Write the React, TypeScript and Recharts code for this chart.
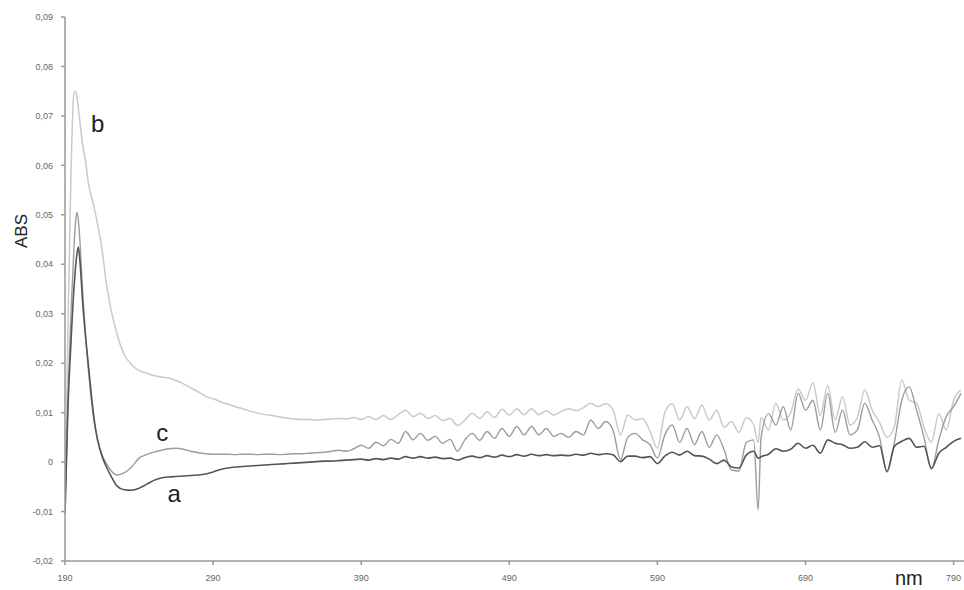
import { LineChart, Line, XAxis, YAxis, ReferenceDot } from 'recharts';

// wavelength grid (nm)
const nm = [
  190, 192, 194, 196, 197, 198, 199, 200, 202, 204, 206, 208, 210, 212, 215, 218, 221,
  225, 230, 235, 240, 245, 250, 255, 260, 265, 270, 275, 280, 285, 290, 295, 300, 305, 310,
  315, 320, 325, 330, 335, 340, 345, 350, 355, 360, 365, 370, 375, 380, 385,
  390, 395, 400, 405, 410, 415, 420, 425, 430, 435, 440, 445, 450, 455, 460, 465, 470, 475,
  480, 485, 490, 495, 500, 505, 510, 515, 520, 525, 530, 535, 540, 545, 550, 555, 560, 565,
  570, 575, 580, 585, 590, 595, 600, 605, 610, 615, 620, 625, 630, 635, 640, 645, 650, 655,
  658,
  660, 665, 670, 675, 680, 685, 690, 695, 700, 705, 710, 715, 720, 725, 730, 735, 740, 745,
  750, 755, 760, 765, 770, 775, 780, 785, 790, 795,
];

const seriesA = [
  -0.0105, 0.011, 0.024, 0.035, 0.039, 0.042, 0.0435, 0.041, 0.032, 0.025, 0.019, 0.013, 0.008, 0.0045, 0.0012, -0.001, -0.0028,
  -0.0048, -0.0056, -0.0057, -0.0053, -0.0045, -0.0037, -0.0032, -0.003, -0.0029, -0.0028, -0.0027, -0.0026, -0.0024, -0.002, -0.0015, -0.0012, -0.001, -0.0009,
  -0.0008, -0.0007, -0.0006, -0.0005, -0.0004, -0.0003, -0.0002, -0.0001, 0, 0.0001, 0.0002, 0.0002, 0.0003, 0.0004, 0.0005,
  0.0006, 0.0004, 0.0007, 0.0005, 0.0008, 0.0006, 0.0011, 0.0008, 0.0011, 0.0008, 0.001, 0.0007, 0.0008, 0.0004, 0.0009, 0.0012, 0.0009, 0.0013,
  0.001, 0.0014, 0.0011, 0.0015, 0.0012, 0.0016, 0.0013, 0.0015, 0.0013, 0.0014, 0.0013, 0.0016, 0.0014, 0.0018, 0.0015, 0.0017, 0.0015, 0.0001,
  0.0012, 0.0012, 0.0009, 0.0011, -0.0003, 0.0012, 0.002, 0.0014, 0.0022, 0.0013, 0.0012, 0.0006, -0.0003, 0.0004, -0.001, -0.0012, 0.0014, 0.0022,
  0.0008,
  0.0011, 0.0016, 0.0027, 0.0022, 0.0026, 0.0038, 0.0028, 0.0034, 0.0018, 0.0045, 0.0038, 0.0035, 0.0028, 0.003, 0.0041, 0.003, 0.0033, -0.0019,
  0.0032, 0.0042, 0.0048, 0.003, 0.0032, -0.0013, 0.0018, 0.003, 0.0042, 0.0048,
];

const seriesB = [
  -0.0105, 0.027, 0.058, 0.0745, 0.075, 0.074, 0.0715, 0.069, 0.064, 0.0605, 0.056, 0.0535, 0.051, 0.048, 0.043, 0.036, 0.031,
  0.026, 0.0217, 0.0197, 0.0185, 0.018, 0.0175, 0.0172, 0.017, 0.0165, 0.0158, 0.015, 0.0142, 0.0133, 0.0128, 0.0122, 0.0117, 0.0112, 0.0108,
  0.0103, 0.0099, 0.0096, 0.0094, 0.0091, 0.0089, 0.0087, 0.0086, 0.0086, 0.0085, 0.0086, 0.0087, 0.0088, 0.0087, 0.009,
  0.0086, 0.0092, 0.0086, 0.0094, 0.0086, 0.0096, 0.0105, 0.0092, 0.0099, 0.0088, 0.0094, 0.0084, 0.0088, 0.0074, 0.0085, 0.0099, 0.0088, 0.0102,
  0.009, 0.0107, 0.0095, 0.0108, 0.0096, 0.0108, 0.0096, 0.0104, 0.0095, 0.0102, 0.0108, 0.0104, 0.011, 0.0119, 0.0112, 0.0118, 0.0106, 0.0055,
  0.0095, 0.0085, 0.0088, 0.0062, 0.0028, 0.01, 0.0118, 0.0085, 0.0112, 0.0088, 0.0115, 0.0085, 0.0105, 0.007, 0.0082, 0.006, 0.009, 0.0075,
  0.004,
  0.009, 0.0065, 0.0119, 0.0085, 0.01, 0.0148, 0.0125, 0.016, 0.0095, 0.0155, 0.0085, 0.0132, 0.0075, 0.009, 0.0146, 0.0105, 0.008, 0.005,
  0.0072, 0.0166, 0.0125, 0.0119, 0.007, 0.004, 0.0098, 0.0065, 0.0125, 0.0146,
];

const seriesC = [
  -0.0105, 0.013, 0.03, 0.043, 0.048, 0.0505, 0.049, 0.045, 0.034, 0.025, 0.018, 0.012, 0.0075, 0.0045, 0.0015, -0.0003, -0.0017,
  -0.0026, -0.0022, -0.001, 0.0008, 0.0015, 0.002, 0.0024, 0.0027, 0.0028, 0.0026, 0.0022, 0.0019, 0.0017, 0.0016, 0.0016, 0.0016, 0.0015, 0.0016,
  0.0016, 0.0015, 0.0016, 0.0016, 0.0015, 0.0016, 0.0017, 0.0017, 0.0018, 0.0019, 0.002, 0.0022, 0.0024, 0.0022, 0.0027,
  0.0034, 0.0028, 0.004, 0.0033, 0.0046, 0.0038, 0.0062, 0.0045, 0.0058, 0.0044, 0.0052, 0.0038, 0.0046, 0.0022, 0.0045, 0.0058, 0.0044, 0.0062,
  0.0048, 0.0068, 0.0052, 0.0072, 0.0055, 0.0072, 0.0055, 0.0068, 0.0052, 0.0058, 0.005, 0.0062, 0.0055, 0.0085, 0.0068, 0.0082, 0.0065, 0.0005,
  0.005, 0.0058, 0.0045, 0.0035, 0.0008, 0.0055, 0.0075, 0.004, 0.0068, 0.0035, 0.0062, 0.003, 0.0055, 0.0025, -0.0016, -0.0018, 0.004, 0.0045,
  -0.0097,
  0.005, 0.0098, 0.0075, 0.0112, 0.0065, 0.0139, 0.0105, 0.0125, 0.0065, 0.0139, 0.006, 0.0105, 0.0055, 0.0065, 0.0119, 0.0085, 0.005, -0.002,
  0.004, 0.0125, 0.0152, 0.0105, 0.005, -0.0014, 0.0045, 0.0092, 0.0112, 0.0139,
];

const xTicks = [190, 290, 390, 490, 590, 690, 790];
const yTicks = [-0.02, -0.01, 0, 0.01, 0.02, 0.03, 0.04, 0.05, 0.06, 0.07, 0.08, 0.09];

const data = nm.map((x, i) => ({ nm: x, a: seriesA[i], b: seriesB[i], c: seriesC[i] }));

const font = '"Liberation Sans", Arial, sans-serif';

const fmtY = (v: number) => (v === 0 ? '0' : v.toFixed(2).replace('.', ','));

const letter = (txt: string) => (p: any) => (
  <text x={p.cx} y={p.cy} textAnchor="middle" dominantBaseline="central" fontSize={24} fill="#222" fontFamily={font}>
    {txt}
  </text>
);

export default function App() {
  return (
    <div style={{ position: 'absolute', left: 0, top: 0, width: 964, height: 590, background: '#fff', fontFamily: font }}>
      <LineChart width={964} height={590} data={data} margin={{ top: 17, right: 0, bottom: 0, left: 0 }}>
        <XAxis
          dataKey="nm"
          type="number"
          domain={[190, 797]}
          ticks={xTicks}
          allowDataOverflow
          height={29}
          tickSize={4}
          tickMargin={10}
          stroke="#999"
          strokeWidth={1.5}
          tick={{ fontSize: 9, fill: '#666', fontFamily: font }}
        />
        <YAxis
          type="number"
          domain={[-0.02, 0.09]}
          ticks={yTicks}
          allowDataOverflow
          width={65}
          tickSize={4}
          tickMargin={8}
          tickFormatter={fmtY}
          stroke="#999"
          strokeWidth={1.5}
          tick={{ fontSize: 9, fill: '#666', fontFamily: font }}
        />
        <Line type="monotone" dataKey="b" stroke="#cacaca" strokeWidth={1.5} dot={false} isAnimationActive={false} />
        <Line type="monotone" dataKey="c" stroke="#9c9c9c" strokeWidth={1.4} dot={false} isAnimationActive={false} />
        <Line type="monotone" dataKey="a" stroke="#555" strokeWidth={1.6} dot={false} isAnimationActive={false} />
        <ReferenceDot x={212} y={0.0684} r={0} shape={letter('b')} />
        <ReferenceDot x={255.6} y={0.0059} r={0} shape={letter('c')} />
        <ReferenceDot x={263.7} y={-0.0063} r={0} shape={letter('a')} />
      </LineChart>
      <div style={{ position: 'absolute', left: 11, top: 226, fontSize: 17, color: '#222', transform: 'rotate(-90deg)', transformOrigin: 'center', width: 22, textAlign: 'center', lineHeight: '22px' }}>
        ABS
      </div>
      <div style={{ position: 'absolute', left: 895, top: 567, fontSize: 20, color: '#222', lineHeight: '22px' }}>nm</div>
    </div>
  );
}
